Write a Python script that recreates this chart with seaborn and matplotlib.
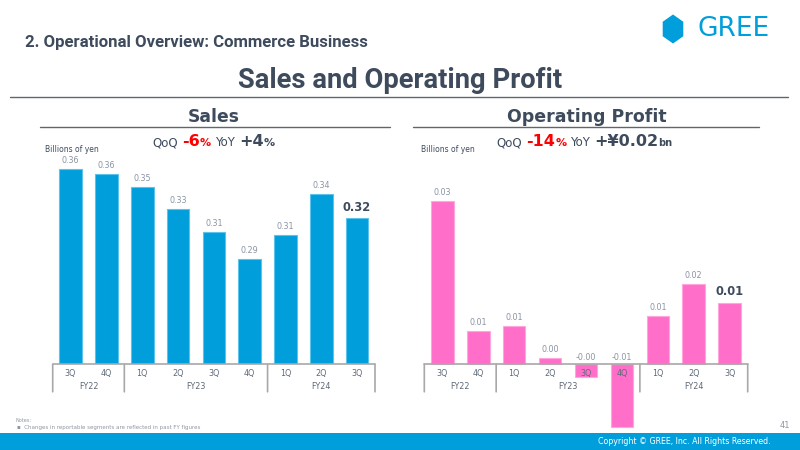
import numpy as np
import seaborn as sns
import matplotlib
matplotlib.use('agg')
import matplotlib.pyplot as plt
from matplotlib import font_manager
from matplotlib.patches import Polygon, Rectangle
from matplotlib.lines import Line2D
from matplotlib.transforms import IdentityTransform

# data (billions of yen)
quarters = ['3Q', '4Q', '1Q', '2Q', '3Q', '4Q', '1Q', '2Q', '3Q']
fiscal_years = ['FY22', 'FY23', 'FY24']
fy_quarter_counts = [2, 4, 3]
sales = [0.362, 0.358, 0.347, 0.329, 0.310, 0.287, 0.307, 0.341, 0.321]
profit = [0.034, 0.007, 0.008, 0.0013, -0.0026, -0.013, 0.010, 0.0167, 0.0128]

fy_of_bar = [fy for fy, n in zip(fiscal_years, fy_quarter_counts) for _ in range(n)]
periods = ['%s %s' % (fy, q) for fy, q in zip(fy_of_bar, quarters)]

BLUE = '#009FDB'
BLUE_EDGE = '#5CC3EC'
PINK = '#FF6FCA'
PINK_EDGE = '#FFA6DC'
DARK = '#3E4B5D'
LABEL_GRAY = '#8A94A3'
TICK_GRAY = '#5E6977'
AXIS_GRAY = '#A8A8A8'
RULE_GRAY = '#5C6674'

sns.set_theme(style='white')
plt.rcParams['font.family'] = ['DejaVu Sans']
names = {f.name for f in font_manager.fontManager.ttflist}
NARROW = 'Liberation Sans Narrow' if 'Liberation Sans Narrow' in names else 'Roboto'

W, H = 800, 450
fig = plt.figure(figsize=(8, 4.5), dpi=100)
renderer = fig.canvas.get_renderer()


def fx(x):
    return x / W


def fy(y):
    return 1 - y / H


def fit_width(t, target):
    w = t.get_window_extent(renderer).width
    t.set_fontsize(t.get_fontsize() * target / w)


def rich_text(cx, y, pieces):
    # pieces: (text, size, weight, color, gap before in px)
    texts, widths, gaps = [], [], []
    for s, size, weight, color, gap in pieces:
        t = fig.text(0, 0, s, fontsize=size, fontweight=weight, color=color,
                     ha='left', va='baseline', transform=IdentityTransform())
        texts.append(t)
        widths.append(t.get_window_extent(renderer).width)
        gaps.append(gap)
    x = cx - (sum(widths) + sum(gaps)) / 2
    for t, w, g in zip(texts, widths, gaps):
        x += g
        t.set_position((x, H - y))
        x += w


def draw_panel(ax, values, color, edge, base):
    sns.barplot(x=periods, y=values, color=color, saturation=1, width=0.63,
                edgecolor=edge, linewidth=0.8, ax=ax)
    n = len(values)
    ax.set_xlim(-0.5, n - 0.5)
    ax.set_axis_off()
    ax.axhline(base, color=AXIS_GRAY, lw=1.2, clip_on=False, zorder=3)

    # category axis: quarter row, fiscal-year row and dividers
    bounds = [-0.5] + list(np.cumsum(fy_quarter_counts) - 0.5)
    for b in bounds:
        ax.annotate('', xy=(b, base), xytext=(0, -27.5), textcoords='offset pixels',
                    arrowprops=dict(arrowstyle='-', color=AXIS_GRAY, lw=1.2,
                                    shrinkA=0, shrinkB=0),
                    annotation_clip=False)
    for i, q in enumerate(quarters):
        ax.annotate(q, xy=(i, base), xytext=(0, -9), textcoords='offset pixels',
                    ha='center', va='center', fontsize=5.8, color=TICK_GRAY,
                    annotation_clip=False, zorder=4)
    starts = np.cumsum([0] + fy_quarter_counts[:-1])
    for fyl, s, c in zip(fiscal_years, starts, fy_quarter_counts):
        ax.annotate(fyl, xy=(s + (c - 1) / 2, base), xytext=(0, -22.5),
                    textcoords='offset pixels', ha='center', va='center',
                    fontsize=5.8, color=TICK_GRAY, annotation_clip=False)

    for i, v in enumerate(values):
        last = i == n - 1
        anchor = max(v, 0)
        off = 11 if last else (8.5 if v >= 0 else 6.5)
        ax.annotate('%.2f' % v, xy=(i, anchor), xytext=(0, off),
                    textcoords='offset pixels', ha='center', va='center',
                    fontsize=8.3 if last else 5.8,
                    fontweight='bold' if last else 'normal',
                    color=DARK if last else LABEL_GRAY, annotation_clip=False)


# sales axes: baseline (0.2) at y=364.3px, top at 140px
s_scale = 1205.0
ax1 = fig.add_axes([fx(52.7), fy(364.3), (375 - 52.7) / W, (364.3 - 140) / H])
draw_panel(ax1, sales, BLUE, BLUE_EDGE, 0.2)
ax1.set_ylim(0.2, 0.2 + (364.3 - 140) / s_scale)

# profit axes: zero at y=364.3px, spans 140..430px
p_scale = 4800.0
ax2 = fig.add_axes([fx(424.3), fy(430), (747.7 - 424.3) / W, (430 - 140) / H])
draw_panel(ax2, profit, PINK, PINK_EDGE, 0.0)
ax2.set_ylim(-(430 - 364.3) / p_scale, (364.3 - 140) / p_scale)

# headings
t = fig.text(fx(25), fy(42), '2. Operational Overview: Commerce Business',
             family=NARROW, fontweight='bold', fontsize=14, color=DARK,
             ha='left', va='center')
fit_width(t, 345)
t = fig.text(fx(400), fy(80), 'Sales and Operating Profit', family=NARROW,
             fontweight='bold', fontsize=16, color=DARK, ha='center', va='center')
fit_width(t, 326)
fig.add_artist(Line2D([fx(10), fx(788)], [fy(97), fy(97)], color=RULE_GRAY, lw=1))

t = fig.text(fx(214), fy(117), 'Sales', fontweight='bold', fontsize=11,
             color=DARK, ha='center', va='center')
fit_width(t, 52)
t = fig.text(fx(586.5), fy(117), 'Operating Profit', fontweight='bold',
             fontsize=11, color=DARK, ha='center', va='center')
fit_width(t, 159)
fig.add_artist(Line2D([fx(40), fx(390)], [fy(126.5), fy(126.5)], color=RULE_GRAY, lw=1))
fig.add_artist(Line2D([fx(413), fx(759)], [fy(126.5), fy(126.5)], color=RULE_GRAY, lw=1))

rich_text(213.5, 146.5, [('QoQ', 8.5, 'normal', DARK, 0),
                         ('-6', 11.5, 'bold', '#FF0000', 4),
                         ('%', 8, 'bold', '#FF0000', 0),
                         ('YoY', 8.5, 'normal', DARK, 4),
                         ('+4', 11.5, 'bold', DARK, 4),
                         ('%', 8, 'bold', DARK, 0)])
rich_text(584.5, 146.5, [('QoQ', 8.5, 'normal', DARK, 0),
                         ('-14', 11.5, 'bold', '#FF0000', 4),
                         ('%', 8, 'bold', '#FF0000', 0),
                         ('YoY', 8.5, 'normal', DARK, 4),
                         ('+¥0.02', 11.5, 'bold', DARK, 4),
                         ('bn', 7, 'bold', DARK, 0)])

fig.text(fx(45), fy(150), 'Billions of yen', fontsize=5.5, color=DARK,
         ha='left', va='center')
fig.text(fx(421), fy(150), 'Billions of yen', fontsize=5.5, color=DARK,
         ha='left', va='center')

# logo
cx, cy, a, b = 673, 29, 10.3, 14.5
hexagon = [(cx, cy - b), (cx + a, cy - b / 2), (cx + a, cy + b / 2),
           (cx, cy + b), (cx - a, cy + b / 2), (cx - a, cy - b / 2)]
fig.add_artist(Polygon([(fx(x), fy(y)) for x, y in hexagon], closed=True,
                       facecolor=BLUE, edgecolor='none'))
fig.text(fx(734), fy(28.5), 'GREE', fontsize=19, color=BLUE, ha='center',
         va='center', family='DejaVu Sans')

# notes & footer
fig.text(fx(15), fy(421), 'Notes:', fontsize=3.6, color='#8E97A3', ha='left', va='center')
t = fig.text(fx(17), fy(428), '▪  Changes in reportable segments are reflected in past FY figures',
             fontsize=3.6, color='#8E97A3', ha='left', va='center')
fit_width(t, 186)
fig.text(fx(785), fy(426), '41', fontsize=6, color='#8E97A3', ha='center', va='center')
fig.add_artist(Rectangle((0, 0), 1, (H - 433) / H, transform=fig.transFigure,
                         facecolor=BLUE, edgecolor='none'))
t = fig.text(fx(771), fy(441.5), 'Copyright © GREE, Inc. All Rights Reserved.',
             fontsize=5, color='white', ha='right', va='center')
fit_width(t, 174)

fig.savefig('out.png', dpi=100)
